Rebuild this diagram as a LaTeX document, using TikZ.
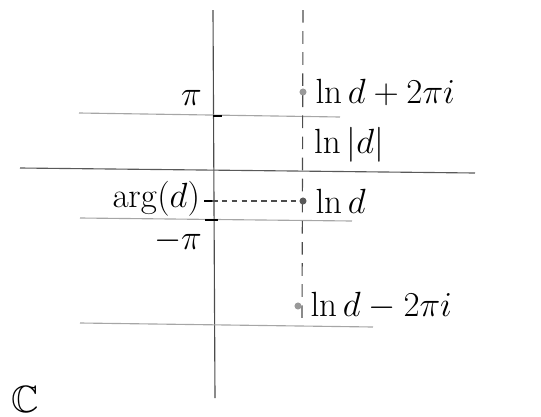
\documentclass[tikz,border=0pt]{standalone}
\usepackage{amssymb}
\usetikzlibrary{positioning}

\begin{document}
\begin{tikzpicture}[x=0.025cm,y=-0.025cm,
    axis/.style={gray!60!black,thick},
    level/.style={gray!70,thick},
    pt/.style={circle,fill=gray!80,inner sep=0pt,minimum size=5pt},
    lbl/.style={font=\fontsize{27}{32}\selectfont,inner sep=2pt}]
  \useasboundingbox (0,0) rectangle (541,416);
  % imaginary axis and the line Re z = ln|d|
  \coordinate (yt) at (213,10);  \coordinate (yb) at (215,398);
  \coordinate (dt) at (303,10);  \coordinate (db) at (302,325);
  % real axis and the strip lines
  \coordinate (xl) at (20,168);  \coordinate (xr) at (475,173);
  \coordinate (pl) at (79,113);  \coordinate (pr) at (340,117);
  \coordinate (ml) at (80,218);  \coordinate (mr) at (352,221);
  \coordinate (bl) at (80,323);  \coordinate (br) at (373,327);
  \draw[axis] (yt) -- (yb);
  \draw[gray!70!black,thick] (xl) -- (xr);
  \draw[level] (pl) -- (pr);
  \draw[level] (ml) -- (mr);
  \draw[level] (bl) -- (br);
  \draw[gray!60!black,thick,dash pattern=on 9pt off 6pt] (dt) -- (db);
  % ticks on the imaginary axis
  \coordinate (pi) at (213,116);
  \coordinate (mpi) at (212,220);
  \coordinate (arg) at (212,201);
  \draw[black,thick] (pi) -- ++(9,0);
  \draw[black,thick] (mpi) -- ++(-7,0) (mpi) -- ++(6,0);
  \draw[black,thick] (arg) -- ++(-8,0);
  % the logarithms
  \node[pt] (up) at (303,92) {};
  \node[pt,fill=gray!70!black] (ln) at (303,201) {};
  \node[pt] (dn) at (298,306) {};
  \draw[gray!60!black,thick,dash pattern=on 4pt off 3pt] (arg) -- (ln);
  \node[lbl,right=4pt of up] (lup) {$\ln d + 2\pi i$};
  \node[lbl,right=4pt of ln] (lln) {$\ln d$};
  \node[lbl,right=4pt of dn] (ldn) {$\ln d - 2\pi i$};
  \node[lbl,anchor=west] (labs) at (311,145) {$\ln|d|$};
  \node[lbl,anchor=east] (larg) at (203,199) {$\arg(d)$};
  \node[lbl,anchor=south east] (lpi) at (205,109) {$\pi$};
  \node[lbl,anchor=north east] (lmpi) at (205,226) {$-\pi$};
  \node[lbl,anchor=south west] (plane) at (8,416) {$\mathbb{C}$};
\end{tikzpicture}
\end{document}
